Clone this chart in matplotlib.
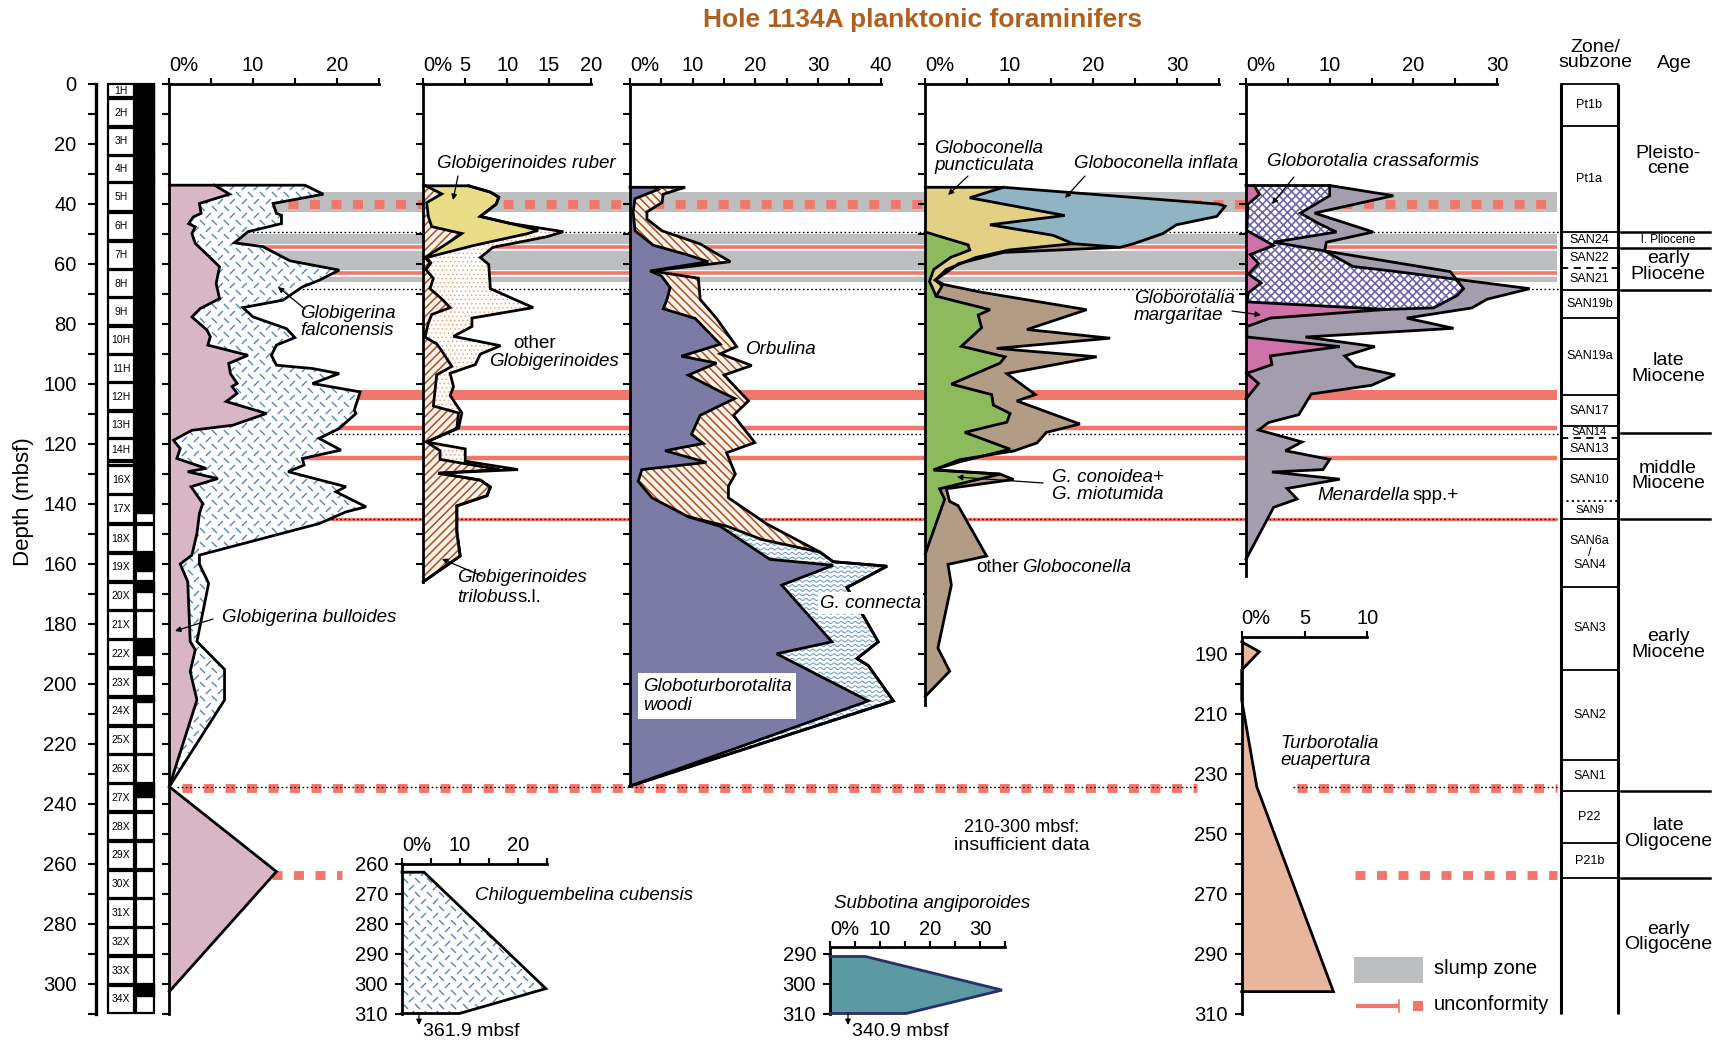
import numpy as np
import matplotlib
matplotlib.use("Agg")
import matplotlib.pyplot as plt
from matplotlib.patches import Polygon, Rectangle
from matplotlib.path import Path

plt.rcParams["font.family"] = ["Liberation Sans", "DejaVu Sans"]
plt.rcParams["hatch.linewidth"] = 1.15

# ------------------------------------------------------------------ data
# Globigerina: G. bulloides and bulloides + falconensis (cumulative %), depth in mbsf
bulloides_depth = [33.9, 36.9, 40.0, 43.3, 44.4, 46.7, 47.8, 50.0, 53.3, 57.8, 61.1, 66.7, 71.7, 75.0,
                   77.8, 82.2, 84.4, 87.2, 90.6, 93.3, 96.7, 100.0, 101.0, 103.3, 106.0, 110.0, 113.9,
                   115.6, 118.9, 121.7, 125.0, 128.3, 129.4, 131.7, 134.4, 140.0, 143.3, 150.0, 157.2,
                   160.2, 166.0, 186.0, 188.8, 196.0, 205.5, 234.4, 262.7, 302.7]
bulloides_pct = [5.4, 7.2, 3.6, 3.8, 2.9, 2.3, 3.1, 2.7, 3.1, 4.8, 6.0, 5.6, 6.0, 3.7, 2.7, 4.5, 4.9,
                 4.6, 9.4, 7.1, 7.3, 8.1, 7.5, 8.1, 6.8, 11.6, 7.6, 2.7, 0.5, 1.3, 0.9, 4.4, 2.2, 5.8,
                 2.6, 4.0, 3.6, 3.3, 2.7, 1.3, 2.2, 2.5, 3.1, 2.5, 3.3, 0.0, 12.8, 0.0]
bull_falc_depth = [33.9, 36.9, 40.0, 43.3, 43.9, 46.7, 49.4, 53.1, 54.4, 59.1, 62.2, 65.6, 67.8, 72.2,
                   74.7, 77.8, 81.7, 84.7, 87.2, 90.6, 93.9, 95.0, 96.7, 100.0, 102.8, 108.9, 110.0,
                   115.0, 118.3, 122.2, 125.0, 127.2, 129.4, 134.4, 136.1, 141.1, 142.8, 146.7, 157.2,
                   160.2, 166.6, 186.0, 195.3, 205.5, 234.4]
bull_falc_pct = [16.2, 18.4, 12.4, 12.8, 13.4, 13.4, 9.4, 7.8, 11.2, 14.4, 20.3, 17.9, 15.9, 13.6,
                 8.8, 10.0, 14.0, 15.0, 12.8, 12.2, 12.8, 17.1, 20.3, 17.1, 22.8, 22.1, 22.3, 20.3,
                 17.9, 20.5, 15.9, 16.1, 14.2, 21.1, 19.9, 23.5, 21.1, 17.9, 3.6, 3.6, 4.7, 3.3, 6.6,
                 6.6, 0.0]

# Globigerinoides: trilobus, trilobus + ruber, total
trilobus_depth = [34.1, 36.8, 39.7, 44.3, 47.7, 50.0, 53.4, 58.0, 59.8, 62.0, 65.0, 68.4, 71.8, 74.7,
                  77.0, 79.9, 84.5, 86.8, 89.1, 94.3, 97.1, 102.3, 107.5, 109.8, 114.9, 119.5, 122.4,
                  125.3, 128.7, 129.9, 132.2, 134.5, 137.4, 140.8, 149.4, 157.5, 166.1]
trilobus_pct = [0.3, 2.2, 0.4, 0.6, 1.0, 4.6, 2.8, 0.2, 0.8, 0.3, 1.2, 0.8, 2.2, 3.2, 1.0, 0.6, 0.2,
                1.6, 2.2, 3.4, 1.6, 1.4, 1.2, 4.2, 4.0, 0.4, 2.0, 2.0, 9.1, 1.8, 6.8, 8.0, 7.6, 4.0,
                4.0, 4.4, 0.0]
ruber_edge_depth = [34.1, 36.2, 37.9, 40.2, 44.3, 46.6, 48.9, 50.0, 54.0, 58.0, 59.8, 62.0]
ruber_edge_pct = [5.4, 8.0, 9.0, 8.7, 6.8, 10.3, 13.7, 12.5, 6.0, 0.4, 0.9, 0.3]
globigerinoides_depth = [34.1, 36.2, 37.9, 40.2, 44.3, 46.6, 49.4, 51.1, 54.6, 58.0, 60.3, 68.4, 74.7,
                         78.2, 81.0, 84.3, 87.4, 90.2, 93.7, 96.6, 101.1, 104.0, 109.8, 114.9, 119.5,
                         121.8, 125.9, 128.7, 129.9, 132.2, 134.5, 137.4, 140.8, 149.4, 157.5, 166.1]
globigerinoides_pct = [5.4, 8.0, 9.0, 8.7, 6.8, 10.3, 16.7, 14.7, 8.3, 6.8, 7.8, 8.0, 13.1, 5.8, 5.8,
                       3.6, 9.2, 6.8, 6.2, 3.2, 3.6, 3.2, 4.6, 4.2, 0.4, 5.0, 5.0, 11.3, 1.8, 6.8, 8.0,
                       7.6, 4.0, 4.0, 4.4, 0.0]

# Globoturborotalita woodi, woodi + G. connecta, total with Orbulina
woodi_depth = [34.6, 35.3, 38.4, 42.8, 49.1, 53.9, 57.0, 59.4, 62.5, 64.1, 68.0, 72.0, 75.1, 78.3, 82.2,
               86.9, 90.9, 93.2, 97.2, 102.7, 105.0, 110.6, 116.9, 120.0, 122.4, 126.3, 128.7, 132.6,
               138.1, 144.4, 147.6, 158.6, 160.6, 167.2, 186.1, 190.1, 205.8, 234.2]
woodi_pct = [4.0, 4.5, 0.8, 0.5, 0.8, 3.7, 9.0, 12.5, 3.2, 5.0, 6.4, 5.9, 5.3, 10.4, 12.2, 14.4, 8.2,
             13.8, 9.3, 14.4, 16.7, 11.2, 9.8, 11.7, 5.6, 12.2, 1.9, 1.3, 3.5, 9.3, 14.4, 22.3, 32.4,
             24.2, 32.2, 23.4, 38.0, 0.0]
connecta_edge_depth = [144.4, 147.6, 152.0, 156.2, 159.4, 160.9, 168.0, 186.1, 191.7, 194.0, 205.8, 234.2]
connecta_edge_pct = [9.3, 15.5, 21.0, 30.3, 32.4, 41.0, 34.6, 39.6, 36.2, 38.0, 42.0, 0.0]
orbulina_total_depth = [34.6, 36.9, 39.7, 42.8, 45.2, 49.1, 53.5, 59.4, 62.5, 64.9, 72.0, 78.3, 87.7,
                        90.1, 94.0, 97.2, 105.8, 110.6, 119.7, 123.1, 130.2, 134.2, 138.1, 146.8, 156.2,
                        159.4, 160.9, 168.0, 186.1, 191.7, 194.0, 205.8, 234.2]
orbulina_total_pct = [8.8, 5.3, 5.1, 2.7, 2.7, 5.1, 11.2, 16.0, 3.5, 10.9, 11.2, 13.8, 17.0, 14.4,
                      19.4, 15.0, 18.9, 16.5, 19.9, 15.4, 16.8, 15.7, 15.7, 21.8, 30.3, 32.4, 41.0,
                      34.6, 39.6, 36.2, 38.0, 42.0, 0.0]

# Globoconella: conoidea+miotumida, + puncticulata, + other, + inflata (cumulative)
conoidea_depth = [49.5, 53.8, 55.5, 58.0, 62.0, 66.0, 70.9, 75.4, 77.2, 81.4, 87.6, 91.1, 93.2, 100.2,
                  103.7, 107.2, 110.0, 112.9, 116.3, 121.9, 126.1, 128.8, 130.2, 135.1, 138.6, 156.8]
conoidea_pct = [0.0, 5.1, 5.3, 3.0, 1.0, 0.5, 1.3, 7.7, 6.3, 6.7, 4.3, 9.5, 8.9, 3.1, 7.9, 8.1, 10.1,
                9.7, 4.7, 10.1, 4.1, 1.0, 8.9, 1.7, 2.3, 0.0]
puncticulata_edge_depth = [34.6, 38.1, 44.0, 47.1, 50.6, 53.4, 55.5, 58.0, 62.0, 65.5, 67.5, 70.9]
puncticulata_edge_pct = [9.3, 5.3, 16.6, 7.7, 15.2, 17.6, 10.0, 6.0, 2.5, 1.2, 2.0, 1.3]
other_globoconella_depth = [53.4, 54.6, 56.3, 60.0, 65.5, 67.0, 69.5, 75.4, 82.0, 84.9, 88.3, 91.1, 96.7,
                            103.7, 105.8, 113.5, 116.3, 119.8, 122.5, 125.4, 128.8, 130.2, 132.0, 135.1,
                            139.3, 140.7, 157.5, 160.3, 167.2, 188.2, 195.9, 204.3]
other_globoconella_pct = [17.6, 23.2, 9.3, 4.0, 1.2, 2.2, 6.5, 19.2, 12.1, 22.0, 8.5, 20.4, 9.7, 13.1,
                          10.9, 18.4, 14.4, 13.3, 10.5, 4.1, 1.0, 8.9, 10.5, 2.5, 2.9, 3.9, 7.3, 2.7,
                          3.1, 1.5, 2.9, 0.0]
inflata_total_depth = [34.6, 40.2, 40.9, 44.3, 47.1, 50.0, 53.4, 54.6]
inflata_total_pct = [9.3, 34.9, 35.7, 34.7, 29.9, 28.3, 24.8, 23.2]

# Globorotalia: margaritae, + crassaformis, + Menardella spp. (cumulative)
margaritae_depth = [34.0, 37.0, 40.3, 49.0, 54.0, 57.0, 60.0, 63.5, 66.5, 69.7, 72.8, 75.3, 78.2, 81.0,
                    84.5, 87.7, 90.8, 93.7, 96.6, 100.0, 105.2]
margaritae_pct = [1.0, 1.6, 0.2, 0.1, 3.3, 0.5, 1.5, 0.3, 1.8, 0.3, 0.1, 16.8, 2.9, 0.1, 0.1, 11.2,
                  2.9, 3.1, 0.1, 1.5, 0.0]
crassaformis_edge_depth = [34.0, 37.4, 43.2, 46.7, 49.5, 52.9, 55.8, 62.7, 68.4, 70.7, 74.8, 75.3]
crassaformis_edge_pct = [10.0, 10.0, 6.5, 8.7, 10.8, 3.3, 9.4, 24.4, 26.0, 25.2, 22.4, 16.8]
menardella_total_depth = [34.0, 37.4, 43.2, 49.5, 52.9, 55.8, 61.0, 62.7, 68.4, 71.9, 74.8, 78.2, 81.6,
                          84.5, 87.7, 90.8, 94.3, 97.1, 100.6, 103.5, 110.4, 113.0, 115.5, 119.5, 122.4,
                          125.3, 128.7, 129.5, 131.9, 135.0, 138.5, 141.3, 158.6]
menardella_total_pct = [10.0, 17.6, 8.2, 15.2, 9.6, 9.4, 12.8, 18.0, 33.9, 28.8, 27.0, 19.2, 24.8, 7.1,
                        15.4, 11.8, 13.1, 17.8, 15.0, 7.8, 6.3, 2.7, 1.5, 6.7, 4.7, 10.0, 9.2, 3.1,
                        11.2, 4.9, 6.1, 3.3, 0.0]

# Deeper single-taxon records
turborotalia_depth = [186.1, 189.4, 195.5, 205.5, 234.4, 302.7]
turborotalia_pct = [0.0, 1.4, 0.0, 0.0, 1.2, 7.3]
chiloguembelina_depth = [262.9, 262.9, 301.7, 310.0, 310.0]
chiloguembelina_pct = [0.0, 3.8, 24.8, 9.9, 0.0]
subbotina_depth = [291.0, 291.0, 302.2, 310.0, 310.0]
subbotina_pct = [0.0, 7.1, 34.4, 15.2, 0.0]

# Cores and recovery
core_names = ["1H", "2H", "3H", "4H", "5H", "6H", "7H", "8H", "9H", "10H", "11H", "12H", "13H", "14H",
              "15X", "16X", "17X", "18X", "19X", "20X", "21X", "22X", "23X", "24X", "25X", "26X", "27X",
              "28X", "29X", "30X", "31X", "32X", "33X", "34X"]
core_tops = [0.0, 4.9, 14.5, 24.0, 33.0, 42.8, 52.5, 62.0, 71.4, 80.9, 90.4, 99.6, 109.1, 118.4, 125.8,
             127.4, 137.0, 146.9, 156.5, 166.1, 175.7, 185.3, 194.9, 204.5, 214.1, 223.7, 233.3, 242.9,
             252.5, 262.1, 271.7, 281.3, 290.9, 300.5]
hole_bottom = 310.0
recovery_top = [0.0, 156.0, 166.1, 185.3, 195.0, 204.5, 233.3, 300.5]
recovery_bottom = [143.3, 162.5, 169.5, 190.5, 197.2, 206.0, 237.8, 304.0]

# Slump zones, unconformities and zone boundaries
slump_zones = [(36.1, 42.9), (50.0, 66.0)]
unconformity_lines = [54.5, 63.0, 114.7, 124.8]
unconformity_band = (102.2, 105.5)
unconformity_dotted = 145.0
zone_dotted_lines = [49.4, 68.6, 116.9]
hiatus_rows = [40.3, 234.7, 263.8]

zone_bounds = [0.0, 14.1, 49.6, 54.7, 61.6, 68.8, 78.2, 103.7, 114.3, 118.3, 125.2, 139.0, 145.3, 167.8,
               195.5, 225.5, 235.9, 253.3, 264.7]
zone_names = ["Pt1b", "Pt1a", "SAN24", "SAN22", "SAN21", "SAN19b", "SAN19a", "SAN17", "SAN14", "SAN13",
              "SAN10", "SAN9", "SAN6a\n/\nSAN4", "SAN3", "SAN2", "SAN1", "P22", "P21b"]
age_bounds = [49.6, 54.7, 68.8, 116.4, 145.3, 235.9, 264.7]
age_names = ["Pleisto-\ncene", "l. Pliocene", "early\nPliocene", "late\nMiocene", "middle\nMiocene",
             "early\nMiocene", "late\nOligocene", "early\nOligocene"]
age_label_depth = [25.7, 52.2, 61.0, 95.0, 130.7, 187.0, 250.0, 284.5]

# ------------------------------------------------------------------ styling
PINK = "#d9b6c5"
DASHBLUE = "#4b7fc3"
YELLOW = "#e9de87"
HATCHBROWN = "#b0532a"
HATCHBG = "#fbf3ea"
STIPPLE = "#f0a072"
WOODI = "#7b7ba5"
WAVE = "#6f9fca"
GREEN = "#8cba5c"
PUNCT = "#e3d085"
BROWN = "#b39c86"
INFLATA = "#91b4c4"
MAGENTA = "#d171aa"
CROSS = "#6b62ab"
MENAR = "#a49dae"
SUBB = "#5b9aa1"
SUBB_EDGE = "#27306b"
TURB = "#e8b59d"
GRAY = "#bdbec0"
RED = "#f2766a"
TITLE = "#b0601e"

W, H = 1727, 1041
fig = plt.figure(figsize=(W / 100, H / 100), dpi=100)

D0, PX = 83.5, 3.0          # pixel row of 0 mbsf and pixels per metre


def ypx(d):
    return D0 + PX * d


def dpx(y):
    return (y - D0) / PX


def axes_px(x0, x1, y0, y1):
    return fig.add_axes([x0 / W, 1 - y1 / H, (x1 - x0) / W, (y1 - y0) / H])


def overlay(z):
    a = axes_px(0, W, 0, H)
    a.set_xlim(0, W)
    a.set_ylim(dpx(H), dpx(0))
    a.axis("off")
    a.patch.set_visible(False)
    a.set_zorder(z)
    return a


bg = overlay(0)
fg = overlay(10)

LW = 2.0


def make_panel(x0, pxper, xmax, xlabels, axis_bot, d_top=0.0, d_bot=310.0, ylabel_every=None,
               first_label=None):
    ax = axes_px(x0, x0 + pxper * xmax, ypx(d_top), ypx(d_bot))
    ax.set_xlim(0, xmax)
    ax.set_ylim(d_bot, d_top)
    ax.patch.set_visible(False)
    ax.spines["right"].set_visible(False)
    ax.spines["bottom"].set_visible(False)
    ax.spines["top"].set_bounds(0, xmax)
    ax.spines["left"].set_bounds(d_top, axis_bot)
    for s in ("top", "left"):
        ax.spines[s].set_linewidth(LW)
        ax.spines[s].set_capstyle("projecting")
    ax.xaxis.tick_top()
    ax.set_xticks(np.arange(0, xmax + 0.01, 5))
    ax.set_xticklabels(xlabels)
    ax.tick_params(axis="x", direction="out", length=4, width=1.5, labelsize=14.5, pad=2)
    labs = ax.get_xticklabels()
    labs[0].set_ha("left")
    start = np.ceil(d_top / 10.0) * 10
    yt = np.arange(start, axis_bot + 0.01, 10)
    ax.set_yticks(yt)
    if ylabel_every is None:
        ax.set_yticklabels([""] * len(yt))
        ax.tick_params(axis="y", direction="out", length=5, width=1.5)
    else:
        ax.set_yticklabels([("%d" % v) if (v - first_label) % ylabel_every == 0 else "" for v in yt])
        ax.tick_params(axis="y", direction="out", length=5, width=1.5, labelsize=14.5, pad=5)
    ax.set_zorder(5)
    return ax


def area(ax, lx, ld, rx, rd, **kw):
    verts = np.column_stack([np.r_[lx, np.asarray(rx)[::-1]], np.r_[ld, np.asarray(rd)[::-1]]])
    p = Polygon(verts, closed=True, clip_on=False, lw=0, zorder=2, **kw)
    ax.add_patch(p)
    return p


def edge(ax, x, d, color="k", lw=LW):
    ax.plot(x, d, color=color, lw=lw, clip_on=False, solid_joinstyle="miter", zorder=4)


def texture(ax, clip, marks, color, dx, dy, ms, lw=0.8, filled=False, brick=True):
    pos = ax.get_position()
    wpx, hpx = pos.width * W, pos.height * H
    xs = np.arange(-0.1 * wpx, 1.2 * wpx, dx)
    ys = np.arange(0.0, hpx + dy, dy)
    px_ = [[] for _ in marks]
    py_ = [[] for _ in marks]
    for r, yy in enumerate(ys):
        k = r % len(marks)
        xx = xs + (dx / 2.0 if (brick and r % 2) else 0.0)
        px_[k].extend(xx / wpx)
        py_[k].extend([yy / hpx] * len(xx))
    for k, mk in enumerate(marks):
        if filled:
            kw = dict(facecolors=color, edgecolors="none")
        else:
            kw = dict(facecolors="none", edgecolors=color, linewidths=lw)
        sc = ax.scatter(px_[k], py_[k], s=ms ** 2, marker=mk, transform=ax.transAxes, zorder=2.5, **kw)
        sc.set_clip_path(clip)
        sc.set_clip_box(fig.bbox)


DASH_A = Path([(-1, -1), (1, 1)])
DASH_B = Path([(-1, 1), (1, -1)])
_t = np.linspace(0, 2 * np.pi, 25)
WAVE_MK = Path(np.column_stack([_t / np.pi - 1, 0.3 * np.sin(_t)]))


def arr(a):
    return np.asarray(a, dtype=float)


# ------------------------------------------------------------------ background bands
X_BAND0, X_BAND1 = 169, 1557
for a, b in slump_zones:
    bg.fill_between([X_BAND0, X_BAND1], a, b, color=GRAY, lw=0, zorder=1)
bg.fill_between([X_BAND0, X_BAND1], unconformity_band[0], unconformity_band[1], color=RED, lw=0, zorder=2)
for d, w in zip(unconformity_lines, [2.6, 2.6, 3.2, 3.2]):
    bg.plot([X_BAND0, X_BAND1], [d, d], color="white", lw=w + 2.2, zorder=2, solid_capstyle="butt")
    bg.plot([X_BAND0, X_BAND1], [d, d], color=RED, lw=w, zorder=3, solid_capstyle="butt")
bg.plot([X_BAND0, X_BAND1], [unconformity_dotted] * 2, color=RED, lw=2.4, zorder=3, solid_capstyle="butt")
bg.plot([X_BAND0, X_BAND1], [unconformity_dotted] * 2, color="k", lw=1.0, ls=(0, (1.2, 1.8)), zorder=3.5)
for d in zone_dotted_lines:
    bg.plot([X_BAND0, 1559], [d, d], color="k", lw=1.0, ls=(0, (1.2, 1.8)), zorder=3.5)

hiatus_spans = [[(288, 1557)], [(182, 1197), (1297, 1557)], [(272, 342), (1355, 1557)]]
for d, spans in zip(hiatus_rows, hiatus_spans):
    for x0, x1 in spans:
        bg.plot([x0, x1], [d, d], color=RED, lw=6.4, ls=(0, (1.12, 1.3)), dash_capstyle="butt", zorder=3)
bg.plot([177, 1197], [234.4, 234.4], color="k", lw=1.0, ls=(0, (1.2, 1.8)), zorder=3.6)
bg.plot([1293, 1557], [234.4, 234.4], color="k", lw=1.0, ls=(0, (1.2, 1.8)), zorder=3.6)

# ------------------------------------------------------------------ core column
for i, (name, top) in enumerate(zip(core_names, core_tops)):
    bot = core_tops[i + 1] if i + 1 < len(core_tops) else hole_bottom
    bg.add_patch(Rectangle((108, top + 0.25), 26, bot - top - 0.5, fc="white", ec="k", lw=1.6, zorder=4))
    bg.add_patch(Rectangle((136, top + 0.25), 18, bot - top - 0.5, fc="white", ec="k", lw=1.6, zorder=4))
    if name != "15X":
        bg.text(121, (top + bot) / 2, name, ha="center", va="center", fontsize=7.5, zorder=6)
for a, b in zip(recovery_top, recovery_bottom):
    bg.add_patch(Rectangle((136, a), 18, b - a, fc="k", ec="k", lw=1.0, zorder=5))

# ------------------------------------------------------------------ depth axis
axd = axes_px(96, 97, ypx(0), ypx(310))
axd.set_ylim(310, 0)
axd.patch.set_visible(False)
for s in ("top", "right", "bottom"):
    axd.spines[s].set_visible(False)
axd.spines["left"].set_linewidth(LW + 0.4)
axd.set_xticks([])
yt = np.arange(0, 311, 10)
axd.set_yticks(yt)
axd.set_yticklabels([("%d" % v) if (v % 20 == 0 and v <= 300) else "" for v in yt])
axd.tick_params(axis="y", direction="out", length=6, width=1.5, labelsize=14.5, pad=8)
fg.text(24, dpx(502), "Depth (mbsf)", rotation=90, ha="center", va="center", fontsize=16)

# ------------------------------------------------------------------ panel 1: Globigerina
ax1 = make_panel(169.3, 8.37, 25, ["0%", "", "10", "", "20", ""], 310)
bd, bp = arr(bulloides_depth), arr(bulloides_pct)
fd, fp = arr(bull_falc_depth), arr(bull_falc_pct)
area(ax1, [0, 0], [bd[0], bd[-1]], bp, bd, fc=PINK)
m = bd <= fd[-1]
pf = area(ax1, bp[m], bd[m], fp, fd, fc="white")
texture(ax1, pf, [DASH_A, DASH_B], DASHBLUE, 12, 7, 3.6, lw=0.95)
edge(ax1, bp, bd)
edge(ax1, np.r_[0, fp], np.r_[fd[0], fd])

# ------------------------------------------------------------------ panel 2: Globigerinoides
ax2 = make_panel(423.3, 8.385, 20, ["0%", "5", "10", "15", "20"], 166)
td, tp = arr(trilobus_depth), arr(trilobus_pct)
rd, rp = arr(ruber_edge_depth), arr(ruber_edge_pct)
gd, gp = arr(globigerinoides_depth), arr(globigerinoides_pct)
area(ax2, [0, 0], [td[0], td[-1]], tp, td, fc=HATCHBG, ec=HATCHBROWN, hatch="////")
m = td <= rd[-1]
area(ax2, tp[m], td[m], rp, rd, fc=YELLOW)
po = area(ax2, np.r_[rp, tp[~m]], np.r_[rd, td[~m]], gp, gd, fc="white")
texture(ax2, po, ["o"], STIPPLE, 4.2, 4.2, 1.2, filled=True)
edge(ax2, tp, td)
edge(ax2, rp, rd)
edge(ax2, np.r_[0, gp], np.r_[gd[0], gd])

# ------------------------------------------------------------------ panel 3: woodi / connecta / Orbulina
ax3 = make_panel(630.0, 6.27, 40, ["0%", "", "10", "", "20", "", "30", "", "40"], 234)
wd, wp = arr(woodi_depth), arr(woodi_pct)
cd, cp = arr(connecta_edge_depth), arr(connecta_edge_pct)
od, op = arr(orbulina_total_depth), arr(orbulina_total_pct)
area(ax3, [0, 0], [wd[0], wd[-1]], wp, wd, fc=WOODI)
m = wd >= cd[0]
pc = area(ax3, wp[m], wd[m], cp, cd, fc="white")
texture(ax3, pc, [WAVE_MK], WAVE, 7, 4.6, 5.0, lw=0.8, brick=False)
m2 = wd <= cd[0]
mc = cd > cd[0]
area(ax3, np.r_[wp[m2], cp[mc]], np.r_[wd[m2], cd[mc]], op, od, fc=HATCHBG, ec=HATCHBROWN,
     hatch="\\\\\\\\")
edge(ax3, wp, wd)
edge(ax3, cp, cd)
edge(ax3, np.r_[0, op], np.r_[od[0], od])

# ------------------------------------------------------------------ panel 4: Globoconella
ax4 = make_panel(925.3, 8.4, 35, ["0%", "", "10", "", "20", "", "30", ""], 207)
cnd, cnp = arr(conoidea_depth), arr(conoidea_pct)
pud, pup = arr(puncticulata_edge_depth), arr(puncticulata_edge_pct)
otd, otp = arr(other_globoconella_depth), arr(other_globoconella_pct)
ifd, ifp = arr(inflata_total_depth), arr(inflata_total_pct)
area(ax4, [0, 0], [cnd[0], cnd[-1]], cnp, cnd, fc=GREEN)
m = cnd <= pud[-1]
area(ax4, np.r_[0, cnp[m]], np.r_[pud[0], cnd[m]], pup, pud, fc=PUNCT)
m1 = pud >= otd[0]
area(ax4, np.r_[pup[m1], cnp[~m], 0], np.r_[pud[m1], cnd[~m], otd[-1]], otp, otd, fc=BROWN)
m2 = pud <= otd[0]
m3 = (otd > otd[0]) & (otd <= ifd[-1])
area(ax4, np.r_[pup[m2], otp[m3]], np.r_[pud[m2], otd[m3]], ifp, ifd, fc=INFLATA)
edge(ax4, cnp, cnd)
edge(ax4, pup, pud)
edge(ax4, otp, otd)
edge(ax4, np.r_[0, ifp], np.r_[ifd[0], ifd])

# ------------------------------------------------------------------ panel 5: Globorotalia
ax5 = make_panel(1246.0, 8.37, 30, ["0%", "", "10", "", "20", "", "30"], 164)
md, mp = arr(margaritae_depth), arr(margaritae_pct)
xd, xp = arr(crassaformis_edge_depth), arr(crassaformis_edge_pct)
nd, npct = arr(menardella_total_depth), arr(menardella_total_pct)
area(ax5, [0, 0], [md[0], md[-1]], mp, md, fc=MAGENTA)
m = md <= xd[-1]
area(ax5, mp[m], md[m], xp, xd, fc="white", ec=CROSS, hatch="xxxx")
area(ax5, np.r_[xp, mp[~m], 0], np.r_[xd, md[~m], nd[-1]], npct, nd, fc=MENAR)
edge(ax5, mp, md)
edge(ax5, xp, xd)
edge(ax5, np.r_[0, npct], np.r_[nd[0], nd])

# ------------------------------------------------------------------ lower records
axt = make_panel(1241.7, 12.56, 10, ["0%", "5", "10"], 310, d_top=184.4, ylabel_every=20, first_label=190)
ud, up = arr(turborotalia_depth), arr(turborotalia_pct)
area(axt, [0, 0], [ud[0], ud[-1]], up, ud, fc=TURB)
edge(axt, np.r_[up, 0], np.r_[ud, ud[-1]])

axc = make_panel(402.0, 5.8, 25, ["0%", "", "10", "", "20", ""], 310, d_top=260, ylabel_every=10,
                 first_label=260)
chd, chp = arr(chiloguembelina_depth), arr(chiloguembelina_pct)
pch = area(axc, [0, 0], [chd[0], chd[-1]], chp, chd, fc="white")
texture(axc, pch, [DASH_A, DASH_B], DASHBLUE, 12, 7, 3.6, lw=0.95)
edge(axc, chp, chd)

axs = make_panel(830.0, 5.0, 35, ["0%", "", "10", "", "20", "", "30", ""], 310, d_top=287.9,
                 ylabel_every=10, first_label=290)
sbd, sbp = arr(subbotina_depth), arr(subbotina_pct)
area(axs, [0, 0], [sbd[0], sbd[-1]], sbp, sbd, fc=SUBB)
edge(axs, sbp, sbd, color=SUBB_EDGE)

# ------------------------------------------------------------------ zone / age columns
bg.plot([1561, 1561], [0, 310], color="k", lw=2.2, zorder=4, solid_capstyle="butt")
bg.plot([1618, 1618], [0, 310], color="k", lw=2.2, zorder=4, solid_capstyle="butt")
for b in zone_bounds:
    if b in (61.6, 118.3):
        ls = (0, (4, 3))
    elif b == 139.0:
        ls = (0, (1.2, 1.8))
    else:
        ls = "-"
    bg.plot([1561, 1618], [b, b], color="k", lw=1.3, ls=ls, zorder=4)
zb = zone_bounds + [hole_bottom]
for i, name in enumerate(zone_names):
    fs = 8 if name in ("SAN9", "SAN14") else 9
    bg.text(1589.5, (zb[i] + zb[i + 1]) / 2, name, ha="center", va="center", fontsize=fs,
            linespacing=1.0, zorder=6)
for b in age_bounds:
    bg.plot([1621, 1710], [b, b], color="k", lw=1.8, zorder=4)
for name, d in zip(age_names, age_label_depth):
    fs = 8.5 if name.startswith("l.") else 14
    bg.text(1668, d, name, ha="center", va="center", fontsize=fs, linespacing=0.85, zorder=6)

fg.text(1595, dpx(55), "Zone/\nsubzone", ha="center", va="center", fontsize=14, linespacing=0.9)
fg.text(1674, dpx(64), "Age", ha="center", va="center", fontsize=14)

# ------------------------------------------------------------------ labels and arrows
fg.text(923, dpx(20), "Hole 1134A planktonic foraminifers", ha="center", va="center", fontsize=19,
        fontweight="bold", color=TITLE)

FS = 13.5


def label(x, y, s, **kw):
    kw.setdefault("fontsize", FS)
    kw.setdefault("style", "italic")
    return fg.text(x, dpx(y), s, ha=kw.pop("ha", "left"), va=kw.pop("va", "center"), **kw)


def pointer(x1, y1, x2, y2):
    fg.annotate("", xy=(x2, dpx(y2)), xytext=(x1, dpx(y1)),
                arrowprops=dict(arrowstyle="-|>", color="k", lw=0.9, mutation_scale=8,
                                shrinkA=0, shrinkB=0))


label(300, 322, "Globigerina\nfalconensis", linespacing=1.0)
pointer(305, 309, 278, 287)
label(222, 617, "Globigerina bulloides")
pointer(213, 619, 175, 631)

label(437, 164, "Globigerinoides ruber")
pointer(458, 176, 453, 200)
label(513, 344, "other", style="normal")
label(489, 361, "Globigerinoides")
label(457, 578, "Globigerinoides")
label(457, 597, "trilobus")
label(518, 597, "s.l.", style="normal")
pointer(482, 576, 442, 559)

label(746, 350, "Orbulina")
label(820, 603, "G. connecta", bbox=dict(fc="white", ec="none", pad=1.5))
label(643, 696, "Globoturborotalita\nwoodi", linespacing=1.2,
      bbox=dict(fc="white", ec="none", boxstyle="square,pad=0.25"))

label(934, 157, "Globoconella\npuncticulata", linespacing=0.95)
pointer(968, 176, 948, 195)
label(1074, 163, "Globoconella inflata")
pointer(1085, 176, 1065, 198)
label(1134, 307, "Globorotalia\nmargaritae", linespacing=0.95)
pointer(1232, 311, 1261, 315)
label(1052, 486, "G. conoidea+\nG. miotumida", linespacing=0.95)
pointer(1043, 483, 957, 477)
label(976, 567, "other", style="normal")
label(1022, 567, "Globoconella")

label(1267, 162, "Globorotalia crassaformis")
pointer(1294, 177, 1272, 204)
label(1317, 496, "Menardella")
label(1413, 496, "spp.+", style="normal")

label(1280, 752, "Turborotalia\neuapertura", linespacing=1.0)

label(475, 895, "Chiloguembelina cubensis")
pointer(419, 1013, 419, 1025)
label(423, 1031, "361.9 mbsf", style="normal", fontsize=14)

label(834, 903, "Subbotina angiporoides")
pointer(848, 1013, 848, 1025)
label(852, 1031, "340.9 mbsf", style="normal", fontsize=14)

label(1022, 827, "210-300 mbsf:", style="normal", ha="center", fontsize=13)
label(1022, 846, "insufficient data", style="normal", ha="center", fontsize=14)

# legend
fg.add_patch(Rectangle((1354, dpx(957)), 69, 26 / PX, fc=GRAY, ec="none"))
label(1434, 969, "slump zone", style="normal", fontsize=14.5)
fg.plot([1356, 1399], [dpx(1006)] * 2, color=RED, lw=3.0, solid_capstyle="butt")
fg.plot([1399, 1399], [dpx(1000), dpx(1012)], color=RED, lw=1.2)
fg.add_patch(Rectangle((1413, dpx(1001)), 10, 10 / PX, fc=RED, ec="none"))
label(1434, 1005, "unconformity", style="normal", fontsize=14.5)

fig.savefig("out.png", dpi=100)
